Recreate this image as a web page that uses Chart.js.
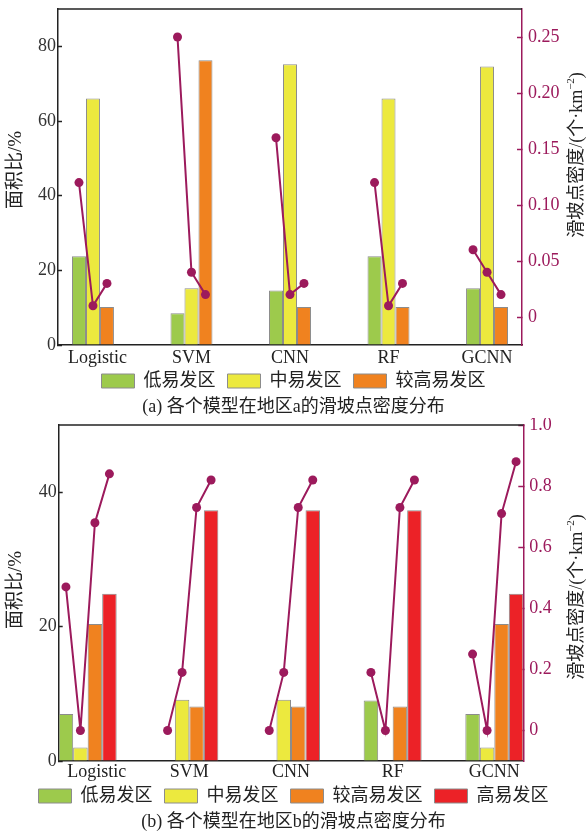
<!DOCTYPE html>
<html>
<head>
<meta charset="utf-8">
<script src="https://cdn.jsdelivr.net/npm/chart.js@4"></script>
<style>
  body { margin: 0; background: #fff; }
  .box { width: 587px; position: relative; }
</style>
</head>
<body>
<div class="box" style="height:418px"><canvas id="chartA"></canvas></div>
<div class="box" style="height:416px"><canvas id="chartB"></canvas></div>
<script>
const models = ['Logistic', 'SVM', 'CNN', 'RF', 'GCNN'];
const zonesA = ['低易发区', '中易发区', '较高易发区'];
const zonesB = ['低易发区', '中易发区', '较高易发区', '高易发区'];

// region a: area ratio (%) per zone
const areaA_low = [23.8, 8.5, 14.6, 23.8, 15.2];
const areaA_mid = [66.0, 15.2, 75.2, 66.0, 74.6];
const areaA_high = [10.2, 76.3, 10.2, 10.2, 10.2];
// region a: landslide density per zone, one row per model
const densityA = [
  [0.12, 0.01, 0.03],
  [0.25, 0.04, 0.02],
  [0.16, 0.02, 0.03],
  [0.12, 0.01, 0.03],
  [0.06, 0.04, 0.02]
];

// region b
const areaB_low = [7.0, 0, 0, 9.0, 7.0];
const areaB_mid = [2.0, 9.1, 9.1, 0, 2.0];
const areaB_high = [20.4, 8.1, 8.1, 8.1, 20.4];
const areaB_top = [24.9, 37.3, 37.3, 37.3, 24.9];
const densityB = [
  [0.47, 0, 0.68, 0.84],
  [0, 0.19, 0.73, 0.82],
  [0, 0.19, 0.73, 0.82],
  [0.19, 0, 0.73, 0.82],
  [0.25, 0, 0.71, 0.88]
];

const areaTicksA = [0, 20, 40, 60, 80];
const densityTicksA = [0, 0.05, 0.10, 0.15, 0.20, 0.25];
const areaTicksB = [0, 20, 40];
const densityTicksB = [0, 0.2, 0.4, 0.6, 0.8, 1.0];

const zoneColors = ['#9dca4c', '#ece93e', '#f0821f', '#ec2227'];
const maroon = '#9c1a5c';
const ink = '#222';
const fam = '"Liberation Serif", "Noto Sans CJK SC", serif';

// dots sit on the centre of each bar of the group
function densityPoints(density, catPct) {
  const pts = [];
  density.forEach((vals, i) => {
    const n = vals.length, w = catPct / n;
    vals.forEach((v, j) => pts.push({ x: i + (j - (n - 1) / 2) * w, y: v }));
    pts.push({ x: i + 0.5, y: null });
  });
  return pts;
}

const frame = {
  id: 'frame',
  afterDraw(chart, args, opts) {
    const { ctx, chartArea: ca } = chart;
    ctx.save();
    ctx.strokeStyle = ink;
    ctx.lineWidth = 1.5;
    ctx.beginPath();
    ctx.moveTo(ca.left, ca.top);
    ctx.lineTo(ca.right, ca.top);
    ctx.stroke();

    ctx.fillStyle = ink;
    ctx.textBaseline = 'middle';
    const mid = (ca.top + ca.bottom) / 2;

    // left title
    ctx.save();
    ctx.translate(opts.leftX, mid + opts.leftShift);
    ctx.rotate(-Math.PI / 2);
    ctx.textAlign = 'center';
    ctx.font = '19px ' + fam;
    ctx.fillText('面积比/%', 0, 0);
    ctx.restore();

    // right title, also read bottom to top, with superscript
    ctx.save();
    ctx.translate(opts.rightX, mid + opts.rightShift);
    ctx.rotate(-Math.PI / 2);
    ctx.textAlign = 'left';
    const main = '滑坡点密度/(个·km', sup = '−2', tail = ')';
    ctx.font = '18px ' + fam;
    const w1 = ctx.measureText(main).width, w3 = ctx.measureText(tail).width;
    ctx.font = '11px ' + fam;
    const w2 = ctx.measureText(sup).width;
    let x = -(w1 + w2 + w3) / 2;
    ctx.font = '18px ' + fam;
    ctx.fillText(main, x, 0);
    x += w1;
    ctx.font = '11px ' + fam;
    ctx.fillText(sup, x, -6);
    x += w2;
    ctx.font = '18px ' + fam;
    ctx.fillText(tail, x, 0);
    ctx.restore();
    ctx.restore();
  }
};

function makeChart(id, o) {
  const datasets = o.series.map((vals, k) => ({
    label: o.zones[k],
    data: vals.map((v, i) => ({ x: i, y: v })),
    backgroundColor: zoneColors[k],
    borderColor: '#8c8c8c',
    borderWidth: 1,
    categoryPercentage: o.catPct,
    barPercentage: 1,
    yAxisID: 'y',
    order: 1
  }));
  datasets.push({
    type: 'line',
    label: '密度',
    data: densityPoints(o.density, o.catPct),
    yAxisID: 'y1',
    borderColor: maroon,
    borderWidth: 2,
    pointRadius: 4.5,
    pointBackgroundColor: maroon,
    pointBorderWidth: 0,
    spanGaps: false,
    tension: 0,
    order: 0
  });

  const tickFont = { family: fam, size: 18 };
  return new Chart(document.getElementById(id), {
    type: 'bar',
    data: { datasets },
    plugins: [frame],
    options: {
      responsive: true,
      maintainAspectRatio: false,
      animation: false,
      devicePixelRatio: 1,
      layout: { padding: { top: o.top, left: 0, right: 0, bottom: 0 } },
      scales: {
        x: {
          type: 'linear', min: o.xMin, max: o.xMax, offset: false,
          afterBuildTicks: s => { s.ticks = models.map((m, i) => ({ value: i })); },
          // mirror keeps the labels from being clipped to the thin axis box
          ticks: {
            callback: v => (v === 0 ? o.firstPad : '') + models[v],
            font: tickFont, color: ink, padding: o.xPad, mirror: true, autoSkip: false, maxRotation: 0
          },
          grid: { drawOnChartArea: false, drawTicks: false },
          border: { color: ink, width: 1.5 },
          afterFit: s => { s.height = o.xHeight; s.paddingLeft = 0; s.paddingRight = 0; }
        },
        y: {
          position: 'left', min: 0, max: o.areaMax,
          afterBuildTicks: s => { s.ticks = o.areaTicks.map(v => ({ value: v })); },
          ticks: { font: tickFont, color: '#333', padding: 6 },
          grid: { drawOnChartArea: false, tickLength: -4, tickColor: ink, tickWidth: 1.5 },
          border: { color: ink, width: 1.5 },
          afterFit: s => { s.width = o.leftW; s.paddingTop = 0; s.paddingBottom = 0; }
        },
        y1: {
          position: 'right', min: o.densMin, max: o.densMax,
          afterBuildTicks: s => { s.ticks = o.densTicks.map(v => ({ value: v })); },
          ticks: { font: tickFont, color: maroon, padding: 11, callback: v => v === 0 ? '0' : v.toFixed(o.dec) },
          grid: { drawOnChartArea: false, tickLength: -5, tickColor: maroon, tickWidth: 1.5 },
          border: { color: maroon, width: 1.5 },
          afterFit: s => { s.width = o.rightW; s.paddingTop = 0; s.paddingBottom = 0; }
        }
      },
      plugins: {
        tooltip: { enabled: false },
        legend: {
          position: 'bottom',
          labels: {
            filter: item => item.datasetIndex < o.series.length,
            boxWidth: 33, boxHeight: 14, padding: 12,
            font: { family: fam, size: 18 }, color: ink
          }
        },
        title: {
          display: true, position: 'bottom', text: o.caption,
          font: { family: fam, size: 18, weight: 'normal' }, color: ink,
          padding: o.capPad
        },
        frame: { leftX: 16, leftShift: o.leftShift, rightX: 577, rightShift: o.rightShift }
      }
    }
  });
}

makeChart('chartA', {
  series: [areaA_low, areaA_mid, areaA_high], zones: zonesA, density: densityA,
  catPct: 0.426, xMin: -0.355, xMax: 4.355,
  areaMax: 90, areaTicks: areaTicksA, densMin: -0.025, densMax: 0.275, densTicks: densityTicksA, dec: 2,
  top: 9, leftW: 58, rightW: 65, xHeight: 15, xPad: -24, firstPad: '  ',
  capPad: { top: -3.6, bottom: 0 }, leftShift: -7, rightShift: -22,
  caption: '(a) 各个模型在地区a的滑坡点密度分布'
});

makeChart('chartB', {
  series: [areaB_low, areaB_mid, areaB_high, areaB_top], zones: zonesB, density: densityB,
  catPct: 0.5705, xMin: -0.285, xMax: 4.285,
  areaMax: 50, areaTicks: areaTicksB, densMin: -0.1, densMax: 1.0, densTicks: densityTicksB, dec: 1,
  top: 7, leftW: 58.7, rightW: 63.7, xHeight: 14, xPad: -22, firstPad: '    ',
  capPad: { top: -3.8, bottom: 1.2 }, leftShift: -3, rightShift: 4,
  caption: '(b) 各个模型在地区b的滑坡点密度分布'
});
</script>
</body>
</html>
